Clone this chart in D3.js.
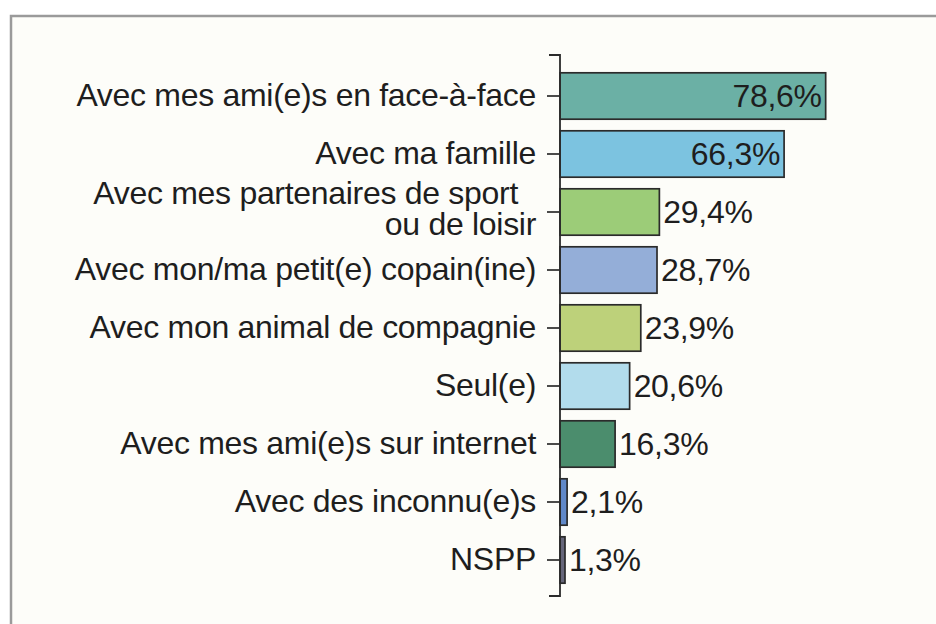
<!DOCTYPE html>
<html>
<head>
<meta charset="utf-8">
<script src="https://cdn.jsdelivr.net/npm/d3@7"></script>
<style>
  body { margin: 0; background: #ffffff; }
  svg { display: block; }
</style>
</head>
<body>
<script>
const width = 936;
const height = 624;

// data
const categories = [
    "Avec mes ami(e)s en face-à-face",
    "Avec ma famille",
    "Avec mes partenaires de sport|ou de loisir",
    "Avec mon/ma petit(e) copain(ine)",
    "Avec mon animal de compagnie",
    "Seul(e)",
    "Avec mes ami(e)s sur internet",
    "Avec des inconnu(e)s",
    "NSPP"
];
const values = [78.6, 66.3, 29.4, 28.7, 23.9, 20.6, 16.3, 2.1, 1.3];
const valueLabels = ["78,6%", "66,3%", "29,4%", "28,7%", "23,9%", "20,6%", "16,3%", "2,1%", "1,3%"];
const barColors = ["#6bb0a5", "#7cc3e0", "#9ccc78", "#94aed8", "#bdd17a", "#b2dcec", "#4b8d6d", "#6189c9", "#66667a"];

const data = categories.map((c, i) => ({ cat: c, value: values[i], label: valueLabels[i], color: barColors[i] }));

const axisX = 560;
const font = "'Liberation Sans', Arial, Helvetica, sans-serif";

const svg = d3.select("body")
    .append("svg")
    .attr("width", width)
    .attr("height", height);

// frame
svg.append("rect")
    .attr("x", 11)
    .attr("y", 16)
    .attr("width", width + 20)
    .attr("height", height + 20)
    .attr("fill", "#fdfdf9")
    .attr("stroke", "#9a9a9a")
    .attr("stroke-width", 2.5);

const xScale = d3.scaleLinear()
    .domain([0, 100])
    .range([axisX, axisX + 338]);

const yScale = d3.scaleBand()
    .domain(categories)
    .range([67, 589])
    .paddingInner(0.2)
    .paddingOuter(0.1);

// bars
svg.append("g")
    .selectAll("rect")
    .data(data)
    .enter()
    .append("rect")
    .attr("x", xScale(0))
    .attr("y", d => yScale(d.cat))
    .attr("width", d => Math.max(xScale(d.value) - xScale(0), 5))
    .attr("height", yScale.bandwidth())
    .attr("fill", d => d.color)
    .attr("stroke", "#2b2b2b")
    .attr("stroke-width", 1.7);

// y axis
const yAxis = d3.axisLeft(yScale)
    .tickSize(13)
    .tickPadding(11)
    .tickSizeOuter(0);

const axisG = svg.append("g")
    .attr("transform", `translate(${axisX},0)`)
    .call(yAxis);

axisG.select(".domain").remove();
axisG.selectAll(".tick line").attr("stroke", "#2b2b2b").attr("stroke-width", 1.7);

// bracket-shaped axis line
axisG.append("path")
    .attr("d", "M-11,55H0V596H-11")
    .attr("fill", "none")
    .attr("stroke", "#2b2b2b")
    .attr("stroke-width", 1.8);

axisG.selectAll(".tick text")
    .attr("fill", "#1e1e1e")
    .style("font-family", font)
    .style("font-size", "32px")
    .style("letter-spacing", "-0.3px")
    .each(function (d) {
        const parts = d.split("|");
        if (parts.length > 1) {
            const t = d3.select(this);
            t.text(null);
            t.append("tspan").attr("x", -42).attr("dy", "-0.25em").text(parts[0]);
            t.append("tspan").attr("x", -24).attr("dy", "0.97em").text(parts[1]);
        }
    });

// value labels
svg.append("g")
    .selectAll("text")
    .data(data)
    .enter()
    .append("text")
    .attr("x", d => d.value > 50 ? xScale(d.value) - 4 : Math.max(xScale(d.value), xScale(0) + 5) + 4)
    .attr("y", d => yScale(d.cat) + yScale.bandwidth() / 2)
    .attr("dy", "0.35em")
    .attr("text-anchor", d => d.value > 50 ? "end" : "start")
    .style("font-family", font)
    .style("font-size", "32px")
    .style("letter-spacing", "-0.3px")
    .attr("fill", "#1e1e1e")
    .text(d => d.label);
</script>
</body>
</html>
